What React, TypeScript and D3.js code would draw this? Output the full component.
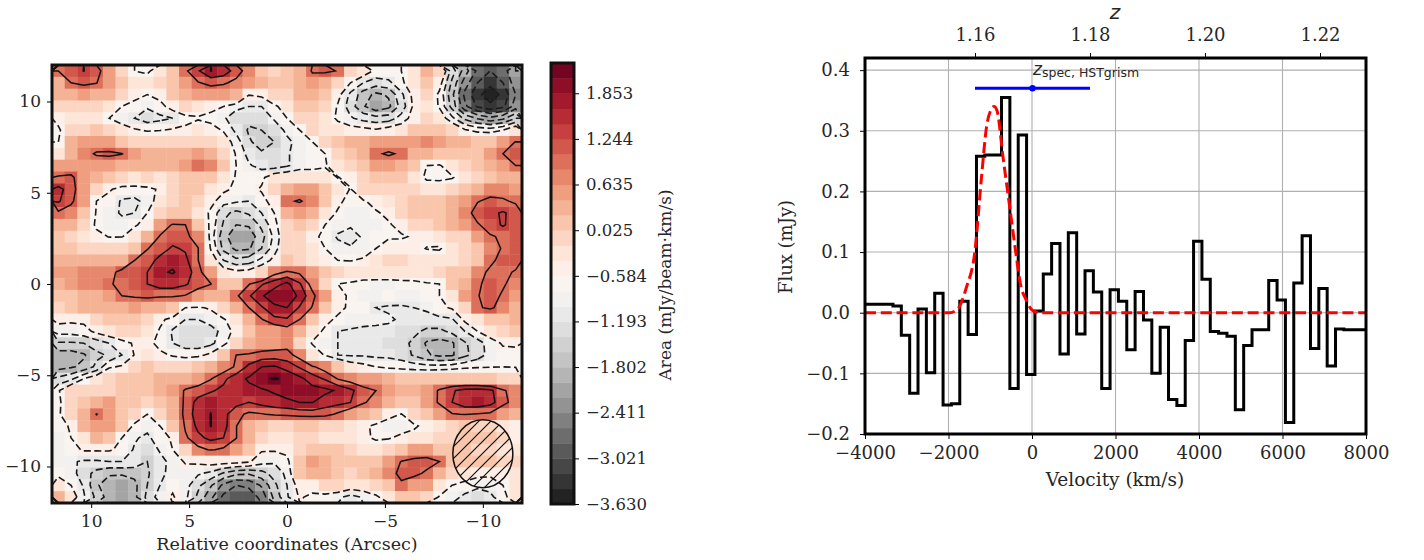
import React, { useEffect, useRef } from "react";
import * as d3 from "d3";

// moment map, top row first, left column = +12 arcsec
const mapRows: number[][] = [
  [.93,1.15,1.36,1.1,.6,0,-.6,-.7,-.3,.2,.85,1.3,1.76,1.6,1.15,.7,.2,0,.1,.3,1.0,1.05,.9,0,-.3,-.7,-.7,-.6,-.2,.35,0,-1.2,-2.0,-2.7,-3.0,-2.8,-2.2],
  [.3,.93,1.05,.95,.55,.05,-.3,-.3,-.1,.2,.6,.9,1.05,1.0,.8,.5,.3,.1,.1,.4,.6,.3,-.1,-.6,-1.0,-1.2,-1.1,-.7,-.25,.05,-.4,-1.5,-2.4,-3.0,-3.3,-3.0,-2.4],
  [.35,.4,.45,.4,.3,0,-.45,-.6,-.45,.1,.35,.45,.6,.5,.4,-.58,-.5,-.05,-.1,.3,.35,.1,-.45,-1.1,-1.6,-1.9,-1.75,-1.1,-.45,-.1,-.7,-1.7,-2.7,-3.3,-3.6,-3.3,-2.6],
  [-.1,-.1,-.05,-.1,-.3,-.6,-.75,-.95,-.75,-.4,-.15,-.3,-.45,-.6,-.9,-1.0,-1.0,-.7,-.35,.1,.1,-.1,-.65,-1.2,-1.75,-2.1,-1.9,-1.25,-.5,-.2,-.65,-1.55,-2.5,-3.05,-3.3,-3.1,-2.4],
  [-.4,-.3,-.2,-.3,-.6,-.85,-1.0,-1.2,-1.1,-1.0,-.75,-.65,-.75,-.95,-1.2,-1.3,-1.25,-.95,-.6,-.1,-.05,-.25,-.7,-.95,-1.15,-1.25,-1.2,-.85,-.4,-.1,-.3,-.9,-1.5,-1.85,-2.1,-1.9,-1.4],
  [-.7,-.1,-.05,.05,-.1,-.35,-.55,-.65,-.62,-.55,-.5,-.3,-.4,-.65,-1.1,-1.45,-1.4,-1.25,-.9,-.6,-.1,-.2,-.3,-.4,-.45,-.55,-.4,-.3,.05,.15,.05,-.1,-.55,-.75,-.8,-.6,-.2],
  [-.6,.3,.55,.55,.45,.2,-.05,-.1,-.1,-.05,-.05,0,-.05,-.3,-.8,-1.35,-1.55,-1.4,-1.1,-.85,-.6,-.05,.2,.35,.4,.5,.6,.6,.55,.65,.5,.4,.25,.15,.15,.6,.95],
  [-.2,.4,.7,1.0,1.05,.95,.5,.4,.3,.35,.35,.45,.3,0,-.65,-1.15,-1.35,-1.35,-1.05,-.8,-.7,-.6,-.05,.15,.4,.85,1.0,.85,.4,.25,.15,.1,.05,.2,.45,.93,1.1],
  [.45,.5,.55,.5,.45,.35,.3,.3,.3,.4,.5,.85,.65,.1,-.6,-.95,-1.15,-1.2,-1.05,-.8,-.75,-.65,-.3,-.05,.15,.55,.55,.3,.1,-.6,-.65,-.3,-.05,.05,.25,.55,.93],
  [1.0,1.05,.55,.3,.1,-.1,-.2,-.15,-.2,-.05,.1,.2,.05,-.2,-.65,-.75,-.7,-.3,-.2,-.2,-.3,-.35,-.62,-.45,-.05,.15,.2,.1,-.3,-.7,-.75,-.65,-.25,0,.15,.3,.4],
  [1.45,1.2,.45,-.1,-.55,-.75,-.75,-.7,-.55,-.1,.05,.05,-.25,-.5,-.7,-.75,-.55,0,.25,.6,.45,.05,-.3,-.63,-.15,0,0,0,-.1,-.25,-.2,-.1,.05,.4,.7,.7,.5],
  [1.4,1.05,.45,-.6,-.75,-1.05,-1.1,-.85,-.35,0,.1,0,-.45,-.85,-.95,-1.0,-.75,-.4,.85,.98,.7,.2,-.5,-.75,-.65,-.45,-.2,0,.05,.05,.1,.25,.6,.9,1.05,1.0,.85],
  [.85,.65,.2,-.65,-.85,-1.05,-1.0,-.6,-.1,.1,.05,-.2,-.7,-1.3,-1.5,-1.35,-1.0,-.6,.4,.5,.35,-.35,-.65,-.85,-.8,-.65,-.5,-.15,.05,.1,.2,.4,.7,1.15,1.25,1.4,1.2],
  [.4,.25,-.1,-.7,-.8,-.85,-.65,-.45,.55,.98,.93,.2,-.75,-1.45,-1.8,-1.75,-1.3,-.75,-.1,.15,-.1,-.6,-.85,-.95,-.8,-.8,-.65,-.45,-.1,0,.1,.35,.55,.88,1.15,1.4,1.15],
  [.2,0,-.25,-.45,-.62,-.62,-.35,.4,.98,1.2,1.05,.7,-.8,-1.65,-2.1,-2.05,-1.55,-.9,-.15,-.1,-.45,-.75,-1.05,-1.15,-.95,-.7,-.65,-.65,-.55,-.45,-.35,-.15,0,.45,.88,1.0,1.05],
  [.15,.05,-.05,-.15,-.1,-.05,.05,.9,1.2,1.4,1.3,.95,-.65,-1.5,-1.9,-1.85,-1.4,-.8,-.1,-.1,-.25,-.6,-.85,-.95,-.8,-.6,-.4,-.4,-.45,-.62,-.65,-.3,-.05,.2,.7,.98,1.1],
  [.35,.25,.3,.25,.3,.35,.93,1.2,1.45,1.65,1.45,.95,-.25,-1.0,-1.3,-1.2,-.9,-.45,.15,-.05,-.2,-.4,-.6,-.62,-.55,-.2,-.05,-.1,-.25,-.3,-.3,-.2,-.05,.15,.85,1.05,1.05],
  [.45,.55,.65,.65,.75,1.1,1.2,1.35,1.7,1.78,1.6,1.1,.5,-.35,-.5,-.45,-.15,.75,1.0,.85,.45,.05,-.15,-.3,-.3,-.25,-.25,-.25,-.2,-.2,-.1,.1,.2,.8,1.0,1.0,.9],
  [.3,.5,.7,.75,.9,1.0,1.2,1.35,1.55,1.55,1.4,1.15,.95,.15,.2,.9,1.3,1.6,1.85,1.4,.75,-.1,-.6,-.65,-.75,-.8,-.8,-.75,-.75,-.65,-.6,.1,.35,.85,1.1,1.0,.7],
  [.1,.2,.35,.4,.45,.93,1.0,1.05,1.0,1.0,.9,.6,.3,.25,.85,1.3,1.7,2.0,2.05,1.65,1.05,.5,-.4,-.7,-.85,-.8,-.75,-.8,-.8,-.75,-.6,-.25,.5,.9,1.15,.85,.6],
  [0,.2,.25,.25,.3,.4,.45,.4,.3,.05,-.6,-.65,-.55,-.05,.25,.93,1.3,1.65,1.75,1.3,.9,.2,-.45,-.7,-.75,-1.0,-1.05,-1.05,-1.0,-.95,-.7,-.55,-.1,.85,1.05,.65,.35],
  [-.45,-.5,-.5,-.05,.05,.1,.15,0,-.5,-.75,-1.0,-1.0,-.8,-.65,-.3,.3,.9,1.25,1.3,.93,.1,-.45,-.7,-.8,-.85,-.95,-.95,-1.05,-1.1,-1.1,-1.1,-1.05,-.5,-.2,.05,.2,.3],
  [-.85,-.85,-.75,-.5,-.3,-.15,-.1,-.3,-.65,-1.05,-1.25,-1.35,-1.2,-.85,-.45,.1,.45,.5,.7,.35,-.35,-.7,-1.0,-1.05,-1.1,-1.05,-1.1,-1.2,-1.3,-1.5,-1.5,-1.3,-1.0,-.6,-.35,-.15,.05],
  [-1.45,-1.45,-1.4,-1.2,-1.0,-.75,-.55,-.45,-.75,-1.0,-1.2,-1.25,-1.1,-.75,-.15,.4,.55,.6,.75,-.05,-.65,-.85,-1.0,-1.1,-1.15,-1.15,-1.2,-1.25,-1.5,-1.85,-1.95,-1.85,-1.45,-1.2,-.8,-.55,-.55],
  [-2.0,-2.0,-1.85,-1.5,-1.35,-1.0,-.58,-.25,-.5,-.65,-.75,-.7,-.5,.05,.93,1.0,1.1,1.15,1.1,.75,-.2,-.65,-1.0,-1.05,-1.05,-1.1,-1.1,-1.2,-1.45,-1.75,-1.9,-1.85,-1.5,-1.2,-.85,-.75,-.7],
  [-1.95,-1.85,-1.7,-1.3,-.65,-.55,0,.05,-.05,-.1,-.1,.05,.3,.65,1.0,1.45,1.75,1.8,1.6,1.3,1.0,.7,.2,-.3,-.45,-.6,-.7,-.75,-.8,-.85,-.85,-.8,-.7,-.65,-.62,-.6,-.62],
  [-1.3,-1.1,-.6,-.3,-.15,.1,.15,.2,.25,.3,.35,.6,.9,1.25,1.6,1.8,2.0,2.13,2.05,1.85,1.55,1.3,.9,.7,.55,.5,.25,.1,.05,.1,.15,.2,.15,.1,.05,-.1,-.15],
  [-.65,-.1,-.1,-.1,0,.1,.2,.2,.25,.5,1.0,1.15,1.3,1.45,1.55,1.65,1.7,1.8,1.95,1.95,1.9,1.85,1.7,1.45,1.1,.93,.5,.35,.3,.55,1.0,1.3,1.5,1.55,1.45,1.0,.7],
  [-.75,0,.2,.35,.45,.2,.05,-.1,.05,.35,1.05,1.5,1.65,1.6,1.5,1.35,1.5,1.6,1.65,1.75,1.76,1.55,1.5,1.35,1.0,.7,.4,.15,.1,.6,1.0,1.35,1.6,1.65,1.5,1.1,.7],
  [-.7,-.05,.35,.95,.6,.15,-.1,-.6,-.1,.3,1.1,1.55,1.76,1.5,1.05,.85,.9,1.0,1.05,1.1,1.15,1.1,.85,.55,.3,.1,-.4,-.62,-.1,.15,.5,.9,.95,.9,.85,.45,.25],
  [-.75,-.55,.3,.6,.55,.1,-.75,-.85,-.6,.1,1.0,1.45,1.76,1.5,.95,.3,.1,-.1,-.1,.05,.05,-.05,-.1,-.2,-.45,-.75,-.9,-.9,-.7,-.4,-.2,-.1,.1,0,-.05,-.25,-.55],
  [-.8,-.6,-.3,.25,.2,-.6,-.95,-1.1,-.75,-.55,.85,1.25,1.45,1.35,.95,.3,-.1,-.2,-.25,-.15,-.15,-.25,-.3,-.35,-.45,-.7,-.65,-.45,-.35,-.25,-.1,0,.05,.1,.05,-.15,-.5],
  [-.85,-.75,-.55,-.55,-.55,-.7,-1.05,-1.3,-.95,-.6,0,.8,.97,.85,.5,.1,-.55,-.55,-.45,-.1,.05,.2,.1,-.1,-.2,-.2,-.05,.15,.45,.6,.1,.15,.05,-.05,-.05,-.2,-.2],
  [-.85,-.95,-1.05,-1.05,-1.0,-1.0,-1.1,-1.4,-1.15,-.85,-.55,-.5,-.4,-.4,-.45,-.55,-.85,-.95,-.75,.2,.5,.4,.2,.1,.05,.1,.6,.95,1.1,1.1,.93,.2,.05,.1,.05,-.1,-.15],
  [-.7,-.85,-1.2,-1.55,-1.75,-1.75,-1.7,-1.45,-1.15,-.8,-.8,-.95,-1.1,-1.45,-1.7,-1.75,-1.55,-1.25,-.9,.1,.25,.25,.15,-.1,.05,.25,.75,1.05,1.05,.85,.35,0,-.3,-.45,-.5,-.4,-.3],
  [-.35,-.6,-1.05,-1.75,-2.0,-2.1,-1.9,-1.4,-1.0,-.7,-.85,-1.3,-1.75,-2.3,-2.6,-2.5,-2.15,-1.5,-1.0,-.4,-.4,-.15,-.15,-.3,-.25,-.1,.1,.85,.6,.5,-.2,-.6,-.75,-.9,-.85,-.6,-.3],
  [.3,-.3,-.95,-1.5,-2.0,-2.1,-1.9,-1.3,-.8,-.55,-.9,-1.5,-2.1,-2.7,-3.0,-2.9,-2.45,-1.7,-1.05,-.55,-.7,-.75,-.9,-1.15,-.95,-.7,-.3,.05,.1,-.1,-.65,-.85,-1.1,-1.25,-1.1,-.75,-.3],
];

const negLevels = [-3.4, -3.0, -2.6, -2.2, -1.8, -1.4, -1.0, -0.6];
const posLevels = [0.93, 1.35, 1.75, 2.1];

const mapXTicks = [10, 5, 0, -5, -10];
const mapYTicks = [10, 5, 0, -5, -10];
const cbarTicks = [1.853, 1.244, 0.635, 0.025, -0.584, -1.193, -1.802, -2.411, -3.021, -3.63];
const cbarMin = -3.63;
const cbarMax = 2.257;
const cbarBands = 29;

// spectrum: step edges (km/s) and flux (mJy) of each bin
const stepVelocity = [-4000,-3330,-3130,-2930,-2730,-2530,-2330,-2130,-1930,-1730,-1530,-1330,-1130,-930,-730,-530,-330,-130,70,270,470,670,870,1070,1270,1470,1670,1870,2070,2270,2470,2670,2870,3070,3270,3470,3670,3870,4070,4270,4470,4670,4870,5070,5270,5470,5670,5870,6070,6270,6470,6670,6870,7070,7270,7470,8000];
const stepFlux = [0.014,0.011,-0.037,-0.133,0.006,-0.099,0.032,-0.152,-0.15,0.019,-0.036,0.258,0.26,0.26,0.355,-0.125,0.293,-0.102,0.003,0.064,0.114,-0.068,0.132,-0.035,0.069,0.034,-0.125,0.038,0.019,-0.061,0.035,-0.012,-0.1,-0.024,-0.143,-0.153,-0.046,0.118,0.055,-0.031,-0.034,-0.039,-0.16,-0.054,-0.028,-0.028,0.053,0.021,-0.181,0.049,0.127,-0.059,0.04,-0.088,-0.027,-0.028];

// fitted line
const fitVelocity = [-4000,-2200,-1970,-1780,-1570,-1370,-1210,-1090,-970,-908,-837,-693,-533,-372,-293,-133,26,200,8000];
const fitFlux = [0,0,0,0.006,0.042,0.1,0.223,0.306,0.336,0.34,0.333,0.256,0.174,0.091,0.053,0.02,0.003,0,0];

const velTicks = [-4000, -2000, 0, 2000, 4000, 6000, 8000];
const fluxTicks = [-0.2, -0.1, 0, 0.1, 0.2, 0.3, 0.4];
const zTicks = [1.16, 1.18, 1.2, 1.22];

const zSpec = 1.17;
const zSpecRange = [1.16, 1.18];
const zSpecFlux = 0.37;

const serif = "'DejaVu Serif', serif";

const fmtMinus = (s: string) => s.replace("-", "\u2212");

const App = () => {
  const ref = useRef<SVGSVGElement>(null);

  useEffect(() => {
    const svg = d3.select(ref.current);
    svg.selectAll("*").remove();

    // ---- map panel
    const mx = d3.scaleLinear().domain([12, -12]).range([52, 522]);
    const my = d3.scaleLinear().domain([12, -12]).range([65, 503]);
    const nRows = mapRows.length;
    const nCols = mapRows[0].length;
    const col = d3.scaleLinear().domain([0, nCols]).range([52, 522]);
    const row = d3.scaleLinear().domain([0, nRows]).range([65, 503]);

    const bandColor = d3
      .scaleQuantize<string>()
      .domain([cbarMin, cbarMax])
      .range(d3.range(cbarBands).map((i) => d3.interpolateRdGy(1 - (i + 0.5) / cbarBands)));

    const defs = svg.append("defs");
    defs.append("clipPath").attr("id", "mapClip").append("rect")
      .attr("x", 52).attr("y", 65).attr("width", 470).attr("height", 438);
    const hatch = defs.append("pattern").attr("id", "hatch")
      .attr("patternUnits", "userSpaceOnUse").attr("width", 12).attr("height", 12);
    hatch.append("path").attr("d", "M-3,3L3,-3M0,12L12,0M9,15L15,9")
      .attr("stroke", "#111").attr("stroke-width", 1.2);

    const map = svg.append("g").attr("clip-path", "url(#mapClip)");
    mapRows.forEach((r, j) => {
      map.append("g").selectAll("rect").data(r).enter().append("rect")
        .attr("x", (_, i) => col(i))
        .attr("y", row(j))
        .attr("width", col(1) - col(0) + 0.4)
        .attr("height", row(1) - row(0) + 0.4)
        .attr("fill", (d) => bandColor(d));
    });

    const flat = mapRows.flat();
    const gridPath = d3.geoPath(
      d3.geoTransform({
        point(x, y) {
          this.stream.point(col(x), row(y));
        },
      })
    );
    const contours = d3.contours().size([nCols, nRows]).smooth(true);
    map.append("g").selectAll("path").data(contours.thresholds(negLevels)(flat)).enter().append("path")
      .attr("d", gridPath as any)
      .attr("fill", "none").attr("stroke", "#1a1a1a").attr("stroke-width", 1.6)
      .attr("stroke-dasharray", "7 3.5");
    map.append("g").selectAll("path").data(contours.thresholds(posLevels)(flat)).enter().append("path")
      .attr("d", gridPath as any)
      .attr("fill", "none").attr("stroke", "#111").attr("stroke-width", 1.5);

    // beam
    map.append("ellipse")
      .attr("cx", mx(-10)).attr("cy", my(-9.3)).attr("rx", 30).attr("ry", 34)
      .attr("fill", "url(#hatch)").attr("stroke", "#111").attr("stroke-width", 1.5);

    const styleAxis = (g: any, size: number) => {
      g.select(".domain").remove();
      g.selectAll("text").attr("font-family", serif).attr("font-size", size).attr("fill", "#262626");
      g.selectAll("line").attr("stroke", "#000").attr("stroke-width", 1);
    };

    svg.append("g").attr("transform", "translate(0,503)")
      .call(d3.axisBottom(mx).tickValues(mapXTicks).tickSize(5).tickPadding(7).tickFormat((d) => fmtMinus(String(d))))
      .call(styleAxis, 17);
    svg.append("g").attr("transform", "translate(52,0)")
      .call(d3.axisLeft(my).tickValues(mapYTicks).tickSize(5).tickPadding(6).tickFormat((d) => fmtMinus(String(d))))
      .call(styleAxis, 17);
    svg.append("rect").attr("x", 52).attr("y", 65).attr("width", 470).attr("height", 438)
      .attr("fill", "none").attr("stroke", "#111").attr("stroke-width", 3);
    svg.append("text").attr("x", 287).attr("y", 550).attr("text-anchor", "middle")
      .attr("font-family", serif).attr("font-size", 17.5).attr("fill", "#262626")
      .text("Relative coordinates (Arcsec)");

    // ---- colour bar
    const cy = d3.scaleLinear().domain([cbarMin, cbarMax]).range([504, 63]);
    const edges = d3.range(cbarBands + 1).map((i) => cbarMin + (i * (cbarMax - cbarMin)) / cbarBands);
    svg.append("g").selectAll("rect").data(edges.slice(0, -1)).enter().append("rect")
      .attr("x", 551).attr("width", 23)
      .attr("y", (_, i) => cy(edges[i + 1]))
      .attr("height", (_, i) => cy(edges[i]) - cy(edges[i + 1]) + 0.4)
      .attr("fill", (d, i) => bandColor((d + edges[i + 1]) / 2));
    svg.append("g").attr("transform", "translate(574,0)")
      .call(d3.axisRight(cy).tickValues(cbarTicks).tickSize(5).tickPadding(7).tickFormat((d) => fmtMinus((d as number).toFixed(3))))
      .call(styleAxis, 16.5);
    svg.append("rect").attr("x", 551).attr("y", 63).attr("width", 23).attr("height", 441)
      .attr("fill", "none").attr("stroke", "#111").attr("stroke-width", 3);
    svg.append("text").attr("transform", "translate(671,285) rotate(-90)").attr("text-anchor", "middle")
      .attr("font-family", serif).attr("font-size", 17).attr("fill", "#262626")
      .text("Area (mJy/beam\u00b7km/s)");

    // ---- spectrum panel
    const vx = d3.scaleLinear().domain([-4000, 8000]).range([865, 1366]);
    const fy = d3.scaleLinear().domain([-0.2, 0.42]).range([434, 58]);
    const zx = d3.scaleLinear().domain([1.16, 1.22]).range([975, 1320]);

    const grid = svg.append("g").attr("stroke", "#b0b0b0").attr("stroke-width", 1.1);
    grid.selectAll("line.v").data(velTicks).enter().append("line").attr("class", "v")
      .attr("x1", (d) => vx(d)).attr("x2", (d) => vx(d)).attr("y1", 58).attr("y2", 434);
    grid.selectAll("line.h").data(fluxTicks).enter().append("line").attr("class", "h")
      .attr("x1", 865).attr("x2", 1366).attr("y1", (d) => fy(d)).attr("y2", (d) => fy(d));

    const stepLine = d3.line<number>()
      .x((_, i) => vx(stepVelocity[i]))
      .y((d) => fy(d))
      .curve(d3.curveStepAfter);
    svg.append("path").attr("d", stepLine([...stepFlux, stepFlux[stepFlux.length - 1]]))
      .attr("fill", "none").attr("stroke", "#000").attr("stroke-width", 3);

    const fitLine = d3.line<number>()
      .x((_, i) => vx(fitVelocity[i]))
      .y((d) => fy(d))
      .curve(d3.curveMonotoneX);
    svg.append("path").attr("d", fitLine(fitFlux))
      .attr("fill", "none").attr("stroke", "#f00").attr("stroke-width", 3)
      .attr("stroke-dasharray", "11 4.8");

    svg.append("line")
      .attr("x1", zx(zSpecRange[0])).attr("x2", zx(zSpecRange[1]))
      .attr("y1", fy(zSpecFlux)).attr("y2", fy(zSpecFlux))
      .attr("stroke", "#00f").attr("stroke-width", 3);
    svg.append("circle").attr("cx", zx(zSpec)).attr("cy", fy(zSpecFlux)).attr("r", 3.2).attr("fill", "#00f");

    const label = svg.append("text").attr("x", 1033).attr("y", 75).attr("fill", "#262626")
      .attr("font-family", "'DejaVu Sans', sans-serif");
    label.append("tspan").attr("font-style", "italic").attr("font-size", 17).text("z");
    label.append("tspan").attr("font-size", 12.5).attr("dy", 2).text("spec, HSTgrism");

    svg.append("g").attr("transform", "translate(0,434)")
      .call(d3.axisBottom(vx).tickValues(velTicks).tickSize(5).tickPadding(7).tickFormat((d) => fmtMinus(String(d))))
      .call(styleAxis, 18);
    svg.append("g").attr("transform", "translate(865,0)")
      .call(d3.axisLeft(fy).tickValues(fluxTicks).tickSize(5).tickPadding(10).tickFormat((d) => fmtMinus(d3.format(".1f")(d as number))))
      .call(styleAxis, 18);
    svg.append("g").attr("transform", "translate(0,58)")
      .call(d3.axisTop(zx).tickValues(zTicks).tickSize(5).tickPadding(12).tickFormat((d) => (d as number).toFixed(2)))
      .call(styleAxis, 18);
    svg.append("rect").attr("x", 865).attr("y", 58).attr("width", 501).attr("height", 376)
      .attr("fill", "none").attr("stroke", "#000").attr("stroke-width", 3);

    svg.append("text").attr("x", 1115).attr("y", 19).attr("text-anchor", "middle")
      .attr("font-family", "'DejaVu Sans', sans-serif").attr("font-style", "italic")
      .attr("font-size", 20).attr("fill", "#262626").text("z");
    svg.append("text").attr("x", 1115).attr("y", 486).attr("text-anchor", "middle")
      .attr("font-family", serif).attr("font-size", 18.5).attr("fill", "#262626").text("Velocity (km/s)");
    svg.append("text").attr("transform", "translate(792,247) rotate(-90)").attr("text-anchor", "middle")
      .attr("font-family", serif).attr("font-size", 18).attr("fill", "#262626").text("Flux (mJy)");
  }, []);

  return (
    <svg
      ref={ref}
      width={1424}
      height={560}
      style={{ position: "absolute", left: 0, top: 0, background: "#fff", display: "block" }}
    />
  );
};

export default App;
